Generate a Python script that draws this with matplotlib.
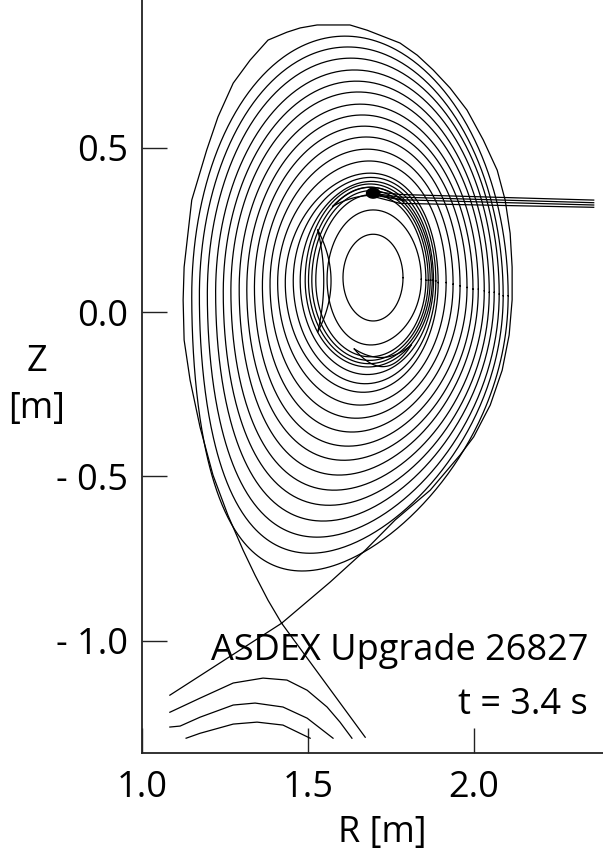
import numpy as np
import matplotlib.pyplot as plt

plt.rcParams['font.family'] = ['Open Sans', 'DejaVu Sans']

# closed flux surfaces inside the separatrix, outermost first [m]
surf_r_in = [1.150, 1.173, 1.197, 1.222, 1.245, 1.268, 1.293, 1.316, 1.339, 1.363, 1.386, 1.409, 1.432, 1.456, 1.477]
surf_r_out = [2.104, 2.089, 2.077, 2.062, 2.047, 2.032, 2.014, 1.998, 1.980, 1.959, 1.938, 1.917, 1.893, 1.886, 1.879]
surf_r_top = [1.612, 1.621, 1.630, 1.640, 1.646, 1.652, 1.658, 1.664, 1.670, 1.676, 1.679, 1.685, 1.688, 1.690, 1.692]
surf_z_top = [0.840, 0.807, 0.773, 0.737, 0.703, 0.670, 0.633, 0.600, 0.566, 0.533, 0.496, 0.460, 0.423, 0.410, 0.398]
surf_r_bot = [1.483, 1.507, 1.528, 1.546, 1.564, 1.579, 1.594, 1.609, 1.621, 1.633, 1.646, 1.658, 1.667, 1.673, 1.679]
surf_z_bot = [-0.788, -0.734, -0.685, -0.636, -0.588, -0.542, -0.496, -0.451, -0.408, -0.365, -0.323, -0.283, -0.244, -0.218, -0.190]
surf_z_mid = [0.05, 0.05, 0.055, 0.06, 0.06, 0.065, 0.07, 0.07, 0.075, 0.08, 0.085, 0.09, 0.09, 0.095, 0.095]

# q=1 region: tightly packed surfaces and the core
core_r_in = [1.492, 1.502, 1.512, 1.524, 1.558, 1.606]
core_r_out = [1.875, 1.869, 1.863, 1.856, 1.842, 1.787]
core_r_top = [1.688, 1.690, 1.692, 1.694, 1.697, 1.697]
core_z_top = [0.390, 0.380, 0.370, 0.358, 0.311, 0.237]
core_r_bot = [1.682, 1.684, 1.686, 1.688, 1.690, 1.697]
core_z_bot = [-0.167, -0.157, -0.147, -0.136, -0.100, -0.027]
core_z_mid = [0.097, 0.097, 0.097, 0.097, 0.100, 0.105]

# islands on the q=1 surface: end points and bulge of both edges [m]
isl_r0 = [1.575, 1.530, 1.640]
isl_z0 = [0.322, 0.250, -0.112]
isl_r1 = [1.790, 1.530, 1.812]
isl_z1 = [0.338, -0.060, -0.100]
isl_b_outer = [0.050, 0.040, -0.060]
isl_b_inner = [0.025, 0.018, -0.032]

# separatrix (lower single null)
sep_r = [1.421, 1.380, 1.341, 1.305, 1.259, 1.214, 1.175, 1.145, 1.127, 1.124, 1.127, 1.150, 1.195,
         1.229, 1.275, 1.326, 1.380, 1.437, 1.477, 1.528, 1.627, 1.679, 1.778, 1.830, 1.878, 1.929,
         1.980, 2.029, 2.071, 2.095, 2.110, 2.116, 2.116, 2.107, 2.086, 2.050, 2.000, 1.959, 1.869,
         1.763, 1.673, 1.567, 1.421]
sep_z = [-0.947, -0.877, -0.801, -0.725, -0.618, -0.496, -0.350, -0.207, -0.085, 0.037, 0.137, 0.341,
         0.493, 0.594, 0.697, 0.767, 0.828, 0.852, 0.865, 0.874, 0.874, 0.858, 0.819, 0.782, 0.737,
         0.682, 0.615, 0.524, 0.432, 0.341, 0.240, 0.137, 0.037, -0.070, -0.177, -0.283, -0.380,
         -0.435, -0.542, -0.633, -0.725, -0.822, -0.947]

# divertor legs
leg_in_r = [1.421, 1.084]
leg_in_z = [-0.947, -1.166]
leg_out_r = [1.421, 1.673]
leg_out_z = [-0.947, -1.294]

# private flux region
hat_a_r = [1.084, 1.175, 1.275, 1.365, 1.437, 1.498, 1.558, 1.597, 1.633]
hat_a_z = [-1.218, -1.175, -1.129, -1.114, -1.120, -1.151, -1.202, -1.248, -1.297]
hat_b_r = [1.084, 1.115, 1.175, 1.275, 1.341, 1.425, 1.498, 1.576]
hat_b_z = [-1.263, -1.260, -1.233, -1.196, -1.190, -1.202, -1.236, -1.297]
hat_c_r = [1.133, 1.175, 1.275, 1.347, 1.425, 1.507]
hat_c_z = [-1.297, -1.282, -1.254, -1.248, -1.257, -1.297]

# beam lines reaching the q=1 surface
beam_r0 = [1.690, 1.695, 1.700, 1.705]
beam_z0 = [0.368, 0.362, 0.356, 0.350]
beam_rm = [1.778, 1.778, 1.778, 1.778]
beam_zm = [0.358, 0.350, 0.342, 0.331]
beam_r1 = [2.362, 2.362, 2.362, 2.362]
beam_z1 = [0.341, 0.333, 0.326, 0.319]
blob_r, blob_z = 1.697, 0.362


def miller(r_in, r_out, r_top, z_top, r_bot, z_bot, z_mid, n=500):
    r0 = 0.5 * (r_in + r_out)
    a = 0.5 * (r_out - r_in)
    th = np.linspace(0, 2 * np.pi, n)
    up = np.sin(th) >= 0
    d = np.where(up, np.arcsin((r0 - r_top) / a), np.arcsin((r0 - r_bot) / a))
    k = np.where(up, (z_top - z_mid) / a, (z_mid - z_bot) / a)
    return r0 + a * np.cos(th + d * np.sin(th)), z_mid + k * a * np.sin(th)


def bezier(p0, p1, bulge, n=60):
    p0, p1 = np.array(p0), np.array(p1)
    mid = 0.5 * (p0 + p1)
    d = p1 - p0
    nrm = np.array([-d[1], d[0]]) / np.hypot(*d)
    c = mid + 2 * bulge * nrm
    t = np.linspace(0, 1, n)[:, None]
    pts = (1 - t) ** 2 * p0 + 2 * t * (1 - t) * c + t ** 2 * p1
    return pts[:, 0], pts[:, 1]


fig = plt.figure(figsize=(6.03, 8.6), dpi=100)
ax = fig.add_axes([142 / 603, 1 - 753 / 860, 1 - 142 / 603, 753 / 860])
lw = 0.9
col = 'black'

for i in range(len(surf_r_in)):
    R, Z = miller(surf_r_in[i], surf_r_out[i], surf_r_top[i], surf_z_top[i],
                  surf_r_bot[i], surf_z_bot[i], surf_z_mid[i])
    ax.plot(R, Z, color=col, lw=lw)

for i in range(len(core_r_in)):
    R, Z = miller(core_r_in[i], core_r_out[i], core_r_top[i], core_z_top[i],
                  core_r_bot[i], core_z_bot[i], core_z_mid[i])
    ax.plot(R, Z, color=col, lw=lw)

# islands: two edges each (left one bulges to the left, bottom one downwards)
for i in range(len(isl_r0)):
    for b in (isl_b_outer[i], isl_b_inner[i]):
        R, Z = bezier((isl_r0[i], isl_z0[i]), (isl_r1[i], isl_z1[i]), b)
        ax.plot(R, Z, color=col, lw=lw)

ax.plot(sep_r, sep_z, color=col, lw=lw)
ax.plot(leg_in_r, leg_in_z, color=col, lw=lw)
ax.plot(leg_out_r, leg_out_z, color=col, lw=lw)
for hr, hz in [(hat_a_r, hat_a_z), (hat_b_r, hat_b_z), (hat_c_r, hat_c_z)]:
    ax.plot(hr, hz, color=col, lw=lw)

for i in range(len(beam_r0)):
    ax.plot([beam_r0[i], beam_rm[i], beam_r1[i]], [beam_z0[i], beam_zm[i], beam_z1[i]],
            color=col, lw=lw)
t = np.linspace(0, 2 * np.pi, 60)
ax.fill(blob_r + 0.02 * np.cos(t), blob_z + 0.015 * np.sin(t), color=col)

ax.set_xlim(1.0, 2.39)
ax.set_ylim(-1.342, 0.950)
for s in ['top', 'right']:
    ax.spines[s].set_visible(False)
for s in ['left', 'bottom']:
    ax.spines[s].set_linewidth(1.3)
    ax.spines[s].set_color('#222222')

ax.set_xticks([1.0, 1.5, 2.0])
ax.set_xticklabels(['1.0', '1.5', '2.0'])
ax.set_yticks([0.5, 0.0, -0.5, -1.0])
ax.set_yticklabels(['0.5', '0.0', '- 0.5', '- 1.0'])
ax.tick_params(direction='in', length=18, width=1.0, color='#222222', labelsize=26)
ax.tick_params(axis='x', pad=12)
ax.tick_params(axis='y', pad=10)

fig.text(37 / 603, 1 - 362 / 860, 'Z', ha='center', va='center', fontsize=26)
fig.text(37 / 603, 1 - 409 / 860, '[m]', ha='center', va='center', fontsize=26)
fig.text(382 / 603, 1 - 833 / 860, 'R [m]', ha='center', va='center', fontsize=26)
ax.text(2.345, -1.06, 'ASDEX Upgrade 26827', ha='right', va='baseline', fontsize=26)
ax.text(2.345, -1.222, 't = 3.4 s', ha='right', va='baseline', fontsize=26)

fig.savefig('out.png', dpi=100)
